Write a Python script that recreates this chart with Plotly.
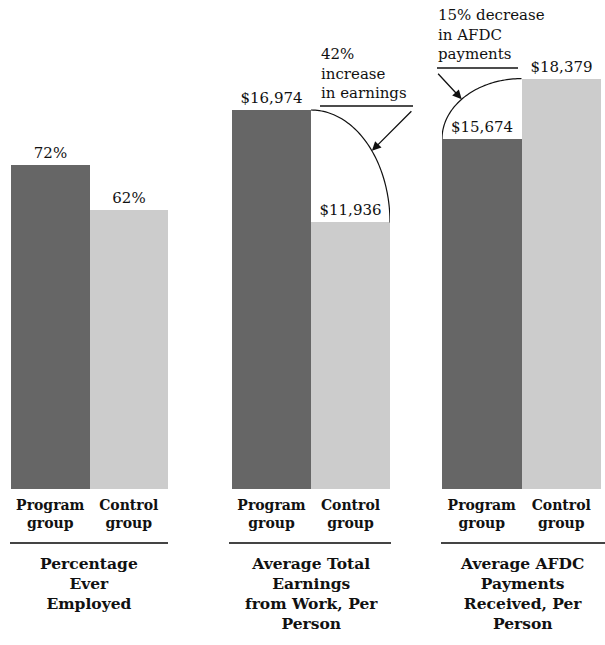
import numpy as np
import plotly.graph_objects as go

# ---- data ----
groups = ["Program<br>group", "Control<br>group"]
employed = [72, 62]
earnings = [16974, 11936]
afdc = [15674, 18379]
employed_labels = ["72%", "62%"]
earnings_labels = ["$16,974", "$11,936"]
afdc_labels = ["$15,674", "$18,379"]
panel_titles = [
    "Percentage<br>Ever<br>Employed",
    "Average Total<br>Earnings<br>from Work, Per<br>Person",
    "Average AFDC<br>Payments<br>Received, Per<br>Person",
]
earn_note = "42%<br>increase<br>in earnings"
afdc_note = "15% decrease<br>in AFDC<br>payments"

colors = ["#666666", "#cccccc"]
FONT = "DejaVu Serif"
W, H = 605, 645

def px_x(p):
    return p / W

def px_y(p):
    return 1 - p / H

fig = go.Figure()
panels = [(employed, employed_labels), (earnings, earnings_labels), (afdc, afdc_labels)]
for i, (vals, labs) in enumerate(panels):
    ax = "" if i == 0 else str(i + 1)
    fig.add_trace(go.Bar(
        x=[0, 1], y=vals, width=1, marker=dict(color=colors, line=dict(width=0)),
        text=labs, textposition="outside", cliponaxis=False,
        textfont=dict(family=FONT, size=15, color="#111"),
        xaxis="x" + ax, yaxis="y" + ax, showlegend=False, hoverinfo="skip",
    ))

ydom = [px_y(489), 1]
xdoms = [[px_x(11), px_x(168)], [px_x(232), px_x(390)], [px_x(442), px_x(601)]]
yranges = [[0, 108.8], [0, 21900], [0, 21900]]

layout = dict(width=W, height=H, margin=dict(l=0, r=0, t=0, b=0),
              paper_bgcolor="white", plot_bgcolor="white", bargap=0)
for i in range(3):
    ax = "" if i == 0 else str(i + 1)
    layout["xaxis" + ax] = dict(domain=xdoms[i], range=[-0.5, 1.5], tickvals=[0, 1],
                                ticktext=groups, showgrid=False, zeroline=False, showline=False,
                                ticks="", anchor="y" + ax, ticklabelstandoff=6,
                                tickfont=dict(family=FONT, size=14, color="#111", weight="bold"))
    layout["yaxis" + ax] = dict(domain=ydom, range=yranges[i], visible=False,
                                anchor="x" + ax)
fig.update_layout(**layout)

# panel titles
centers = [89, 311, 522]
for c, t in zip(centers, panel_titles):
    fig.add_annotation(x=px_x(c), y=px_y(552), xref="paper", yref="paper", text=t,
                       showarrow=False, xanchor="center", yanchor="top",
                       font=dict(family=FONT, size=15.5, color="#111", weight="bold"))

# underlines under group labels
for x0, x1 in [(10, 168), (229, 391), (441, 605)]:
    fig.add_shape(type="line", xref="paper", yref="paper", x0=px_x(x0), x1=px_x(x1),
                  y0=px_y(543), y1=px_y(543), line=dict(color="#444", width=2))

# arc for earnings (panel 2)
t = np.linspace(0, np.pi / 2, 60)
ex = 0.5 + 1.0 * np.sin(t)
ey = earnings[1] + (earnings[0] - earnings[1]) * np.cos(t)
path = "M " + " L ".join(f"{a:.4f},{b:.2f}" for a, b in zip(ex, ey))
fig.add_shape(type="path", path=path, xref="x2", yref="y2", line=dict(color="#111", width=1.2))
tt = 0.88
fig.add_annotation(x=0.5 + np.sin(tt), y=earnings[1] + (earnings[0] - earnings[1]) * np.cos(tt),
                   xref="x2", yref="y2", ax=41, ay=-41, text="", showarrow=True,
                   arrowhead=2, arrowsize=1.4, arrowwidth=1.3, arrowcolor="#111")
fig.add_shape(type="line", xref="paper", yref="paper", x0=px_x(320), x1=px_x(413),
              y0=px_y(106), y1=px_y(106), line=dict(color="#111", width=1.3))
fig.add_annotation(x=px_x(319), y=px_y(104), xref="paper", yref="paper", text=earn_note,
                   showarrow=False, xanchor="left", yanchor="bottom", align="left",
                   font=dict(family=FONT, size=15, color="#111"))

# arc for AFDC (panel 3)
ax3 = 0.5 - 1.0 * np.cos(t)
ay3 = afdc[0] + (afdc[1] - afdc[0]) * np.sin(t)
path3 = "M " + " L ".join(f"{a:.4f},{b:.2f}" for a, b in zip(ax3, ay3))
fig.add_shape(type="path", path=path3, xref="x3", yref="y3", line=dict(color="#111", width=1.2))
tt3 = 0.72
fig.add_annotation(x=0.5 - np.cos(tt3), y=afdc[0] + (afdc[1] - afdc[0]) * np.sin(tt3),
                   xref="x3", yref="y3", ax=-25, ay=-27, text="", showarrow=True,
                   arrowhead=2, arrowsize=1.4, arrowwidth=1.3, arrowcolor="#111")
fig.add_shape(type="line", xref="paper", yref="paper", x0=px_x(437), x1=px_x(518),
              y0=px_y(68), y1=px_y(68), line=dict(color="#111", width=1.3))
fig.add_annotation(x=px_x(436), y=px_y(65), xref="paper", yref="paper", text=afdc_note,
                   showarrow=False, xanchor="left", yanchor="bottom", align="left",
                   font=dict(family=FONT, size=15, color="#111"))

fig.write_html("out.html")
